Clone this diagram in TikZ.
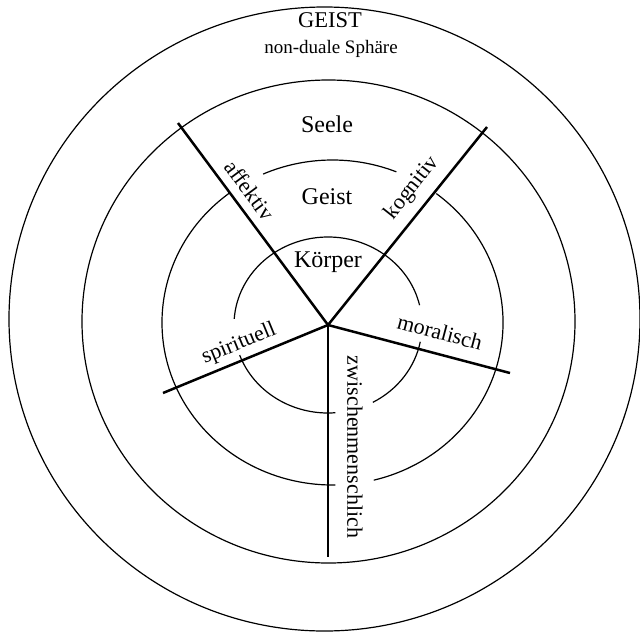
\documentclass[tikz,border=0pt]{standalone}
\usepackage{fontspec}
\setmainfont{Liberation Serif}
\begin{document}
\begin{tikzpicture}[x=1pt,y=-1pt,
  ring/.style={line width=1.2pt},
  spoke/.style={line width=2.5pt},
  lab/.style={font=\fontsize{22}{24}\selectfont, inner sep=0pt},
  ringlab/.style={font=\fontsize{24}{26}\selectfont, inner sep=0pt},
  big/.style={font=\fontsize{22.5}{24}\selectfont, inner sep=0pt},
  small/.style={font=\fontsize{19}{21}\selectfont, inner sep=0pt}]
\useasboundingbox (0,0) rectangle (640,635);
\fill[white] (0,0) rectangle (640,635);
% centres
\coordinate (oc) at (324.5,319);
\coordinate (sc) at (328.5,321.5);
\coordinate (gc) at (332.5,322.5);
\coordinate (kc) at (328,325);
\coordinate (c) at (328,325);
% outer rings
\draw[ring] (oc) ellipse [x radius=315.5pt, y radius=312pt];
\draw[ring] (sc) ellipse [x radius=246.5pt, y radius=241.5pt];
% Geist ring (three arcs)
\draw[ring] ([shift={(68:170.5pt and 162.5pt)}]gc) arc[start angle=68,end angle=114,x radius=170.5pt,y radius=162.5pt];
\draw[ring] ([shift={(127:170.5pt and 162.5pt)}]gc) arc[start angle=127,end angle=271,x radius=170.5pt,y radius=162.5pt];
\draw[ring] ([shift={(284:170.5pt and 162.5pt)}]gc) arc[start angle=284,end angle=412.5,x radius=170.5pt,y radius=162.5pt];
% Koerper ring (three arcs)
\draw[ring] ([shift={(13:94pt and 88pt)}]kc) arc[start angle=13,end angle=176,x radius=94pt,y radius=88pt];
\draw[ring] ([shift={(200:94pt and 88pt)}]kc) arc[start angle=200,end angle=274.5,x radius=94pt,y radius=88pt];
\draw[ring] ([shift={(298.5:94pt and 88pt)}]kc) arc[start angle=298.5,end angle=349,x radius=94pt,y radius=88pt];
% spokes
\coordinate (aff) at (178,123);
\coordinate (kog) at (487,127);
\coordinate (spi) at (163,393);
\coordinate (mor) at (510,373);
\coordinate (zwi) at (328,557);
\draw[spoke] (c) -- (aff);
\draw[spoke] (c) -- (kog);
\draw[spoke] (c) -- (spi);
\draw[spoke] (c) -- (mor);
\draw[spoke] (c) -- (zwi);
% texts
\node[big] (tGEIST) at (330,20) {GEIST};
\node[small] (tnd) at (331,49) {non-duale Sphäre};
\node[ringlab] (tSeele) at (327,124) {Seele};
\node[ringlab] (tGeist) at (327,197) {Geist};
\node[ringlab] (tKoerper) at (328,262) {Körper};
\node[lab, rotate=-53.4] (taff) at (250,190) {affektiv};
\node[lab, rotate=51.6] (tkog) at (412,188) {kognitiv};
\node[lab, rotate=22.4] (tspi) at (239,344) {spirituell};
\node[lab, rotate=-14.8] (tmor) at (440,332) {moralisch};
\node[lab, rotate=-90] (tzwi) at (355,447) {zwischenmenschlich};
\end{tikzpicture}
\end{document}
